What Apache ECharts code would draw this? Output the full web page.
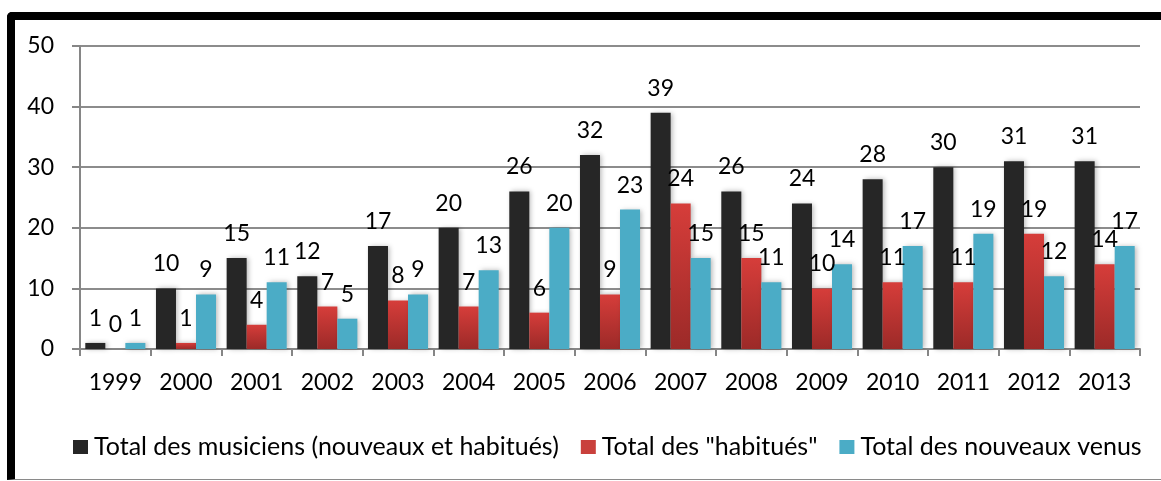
<!DOCTYPE html>
<html lang="fr">
<head>
    <meta charset="UTF-8">
    <title>Musiciens</title>
    <script src="https://cdn.jsdelivr.net/npm/echarts@6/dist/echarts.min.js"></script>
    <style>
        body { margin: 0; background: #fff; }
        #wrap { position: relative; width: 1161px; height: 481px; }
        #main { position: absolute; left: 0; top: 0; width: 1161px; height: 481px; }
        #frame {
            position: absolute; left: 7px; top: 12px; width: 1160px; height: 459px;
            border-top: 8px solid #000; border-left: 8px solid #000;
            border-bottom: 1px solid #8a8a8a; border-top-left-radius: 5px;
            pointer-events: none;
        }
    </style>
</head>
<body>
<div id="wrap">
    <div id="main"></div>
    <div id="frame"></div>
</div>
<script type="text/javascript">
    // données
    var annees = ['1999','2000','2001','2002','2003','2004','2005','2006','2007','2008','2009','2010','2011','2012','2013'];
    var totalMusiciens = [1,10,15,12,17,20,26,32,39,26,24,28,30,31,31];
    var totalHabitues = [0,1,4,7,8,7,6,9,24,15,10,11,11,19,14];
    var totalNouveaux = [1,9,11,5,9,13,20,23,15,11,14,17,19,12,17];
    var yTicks = [0,10,20,30,40,50];

    var police = 'Lato';
    var labelStyle = {
        show: true, position: 'top', distance: 13,
        color: '#000', fontSize: 23, fontFamily: police
    };
    var ombre = { shadowBlur: 5, shadowColor: 'rgba(0,0,0,0.28)', shadowOffsetX: 2, shadowOffsetY: 0 };

    var myChart = echarts.init(document.getElementById('main'));
    myChart.setOption({
        animation: false,
        textStyle: { fontFamily: police },
        grid: { left: 80, right: 21, top: 46, bottom: 132 },
        legend: {
            top: 428, left: 68,
            itemWidth: 15, itemHeight: 14, itemGap: 22,
            icon: 'rect',
            textStyle: { fontSize: 25, lineHeight: 28, color: '#000', fontFamily: police, padding: [0, 0, 0, 1] },
            data: [
                'Total des musiciens (nouveaux et habitués)',
                { name: 'Total des "habitués"', itemStyle: { color: '#c9403c' } },
                'Total des nouveaux venus'
            ]
        },
        xAxis: {
            type: 'category', data: annees,
            axisLine: { lineStyle: { color: '#868686', width: 2 } },
            axisTick: { show: true, length: 7, lineStyle: { color: '#868686', width: 2 } },
            axisLabel: { color: '#000', fontSize: 23, margin: 22, fontFamily: police }
        },
        yAxis: {
            type: 'value', min: yTicks[0], max: yTicks[yTicks.length - 1], interval: 10,
            axisLine: { show: true, lineStyle: { color: '#868686', width: 2 } },
            axisTick: { show: true, length: 8, lineStyle: { color: '#868686', width: 2 } },
            splitLine: { lineStyle: { color: '#8c8c8c', width: 2 } },
            axisLabel: { color: '#000', fontSize: 23, margin: 26, fontFamily: police }
        },
        series: [{
            name: 'Total des musiciens (nouveaux et habitués)',
            type: 'bar', data: totalMusiciens,
            barGap: '0%', barCategoryGap: '15%',
            itemStyle: Object.assign({ color: '#262626' }, ombre),
            label: labelStyle
        }, {
            name: 'Total des "habitués"',
            type: 'bar', data: totalHabitues,
            itemStyle: Object.assign({
                color: new echarts.graphic.LinearGradient(0, 0, 0, 1, [
                    { offset: 0, color: '#d63d3a' },
                    { offset: 1, color: '#9c2a28' }
                ])
            }, ombre),
            label: labelStyle
        }, {
            name: 'Total des nouveaux venus',
            type: 'bar', data: totalNouveaux,
            itemStyle: Object.assign({ color: '#4bacc6' }, ombre),
            label: labelStyle
        }]
    });
</script>
</body>
</html>
